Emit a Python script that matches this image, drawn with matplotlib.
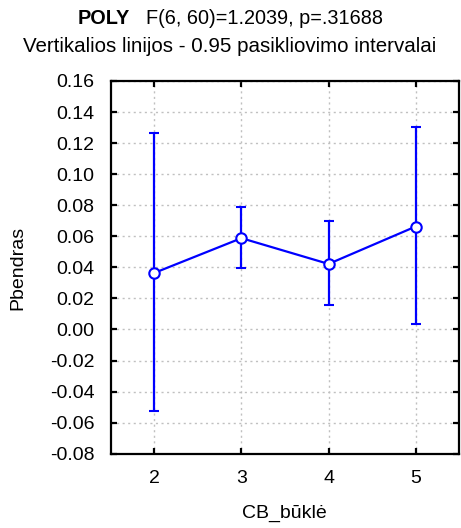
import matplotlib
matplotlib.use("Agg")
import matplotlib.pyplot as plt
from matplotlib.ticker import FuncFormatter, MultipleLocator

plt.rcParams['font.family'] = ['Liberation Sans', 'DejaVu Sans']

categories = [2, 3, 4, 5]
means = [0.0364, 0.0588, 0.0422, 0.0663]
ci_low = [-0.0528, 0.0399, 0.0159, 0.0034]
ci_high = [0.1263, 0.0789, 0.0701, 0.1306]

title_bold = "POLY"
title_rest = "F(6, 60)=1.2039, p=.31688"
subtitle = "Vertikalios linijos - 0.95 pasikliovimo intervalai"
xlabel = "CB_būklė"
ylabel = "Pbendras"

FS = 14
W, H = 461, 528
fig = plt.figure(figsize=(W / 100, H / 100), dpi=100)
ax = fig.add_axes([110.7 / W, 1 - 453.7 / H, (459.3 - 110.7) / W, (453.7 - 81) / H])

blue = (0, 0, 1)
yerr = [[m - lo for m, lo in zip(means, ci_low)],
        [hi - m for m, hi in zip(means, ci_high)]]
ax.errorbar(categories, means, yerr=yerr, color=blue, lw=1.6, elinewidth=1.6,
            capsize=3.8, capthick=1.6, marker='o', markersize=7.5,
            markerfacecolor='white', markeredgecolor=blue, markeredgewidth=1.5,
            zorder=3)

ax.set_xlim(1.5, 5.5)
ax.set_ylim(-0.08, 0.16)
ax.set_xticks(categories)
ax.yaxis.set_major_locator(MultipleLocator(0.02))
ax.yaxis.set_major_formatter(FuncFormatter(lambda v, p: f"{round(v, 2) + 0.0:.2f}"))

ax.grid(True, linestyle=(0, (1.5, 2.5)), color='#c0c0c0', lw=1.0)
ax.set_axisbelow(True)
for s in ax.spines.values():
    s.set_linewidth(1.6)
    s.set_color('black')
ax.tick_params(direction='in', length=4, width=1.6, top=True, right=True,
               labelsize=FS, pad=11.5, colors='black')
ax.tick_params(axis='x', pad=12)

fig.text(18 / W, 1 - 268 / H, ylabel, rotation=90, ha='center', va='center', fontsize=FS)
fig.text(284 / W, 1 - 513 / H, xlabel, ha='center', va='center', fontsize=FS)
fig.text(230 / W, 1 - 46 / H, subtitle, ha='center', va='center', fontsize=14.8)

# Title: bold name followed by the test statistic, centred as one line
renderer = fig.canvas.get_renderer()
t1 = fig.text(0, 1 - 18.5 / H, title_bold, fontweight='bold', ha='left', va='center', fontsize=14.3)
t2 = fig.text(0, 1 - 18.5 / H, title_rest, ha='left', va='center', fontsize=14.3)
w1 = t1.get_window_extent(renderer).width
w2 = t2.get_window_extent(renderer).width
gap = 16
start = (W - (w1 + gap + w2)) / 2
t1.set_x(start / W)
t2.set_x((start + w1 + gap) / W)

fig.savefig("out.png", dpi=100)
